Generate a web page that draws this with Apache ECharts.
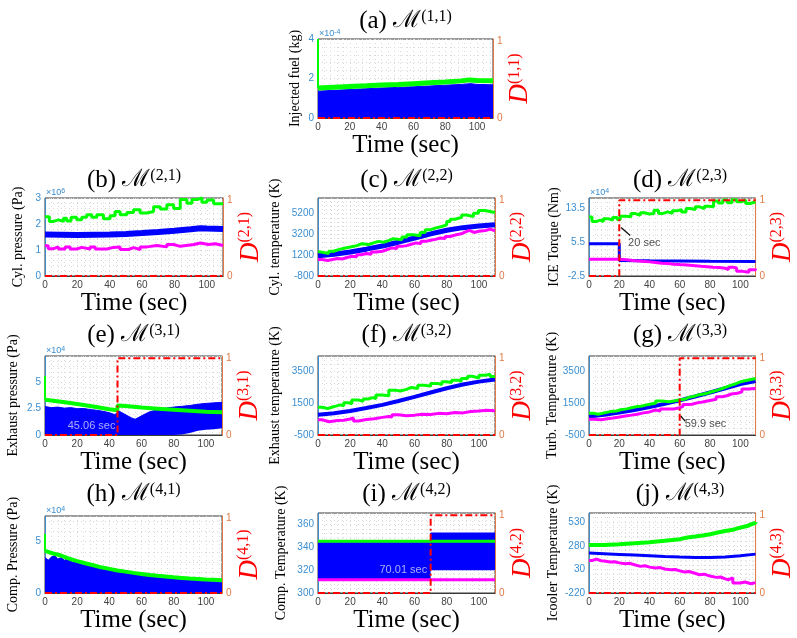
<!DOCTYPE html>
<html><head><meta charset="utf-8">
<script src="https://cdn.jsdelivr.net/npm/echarts@6.0.0/dist/echarts.min.js"></script>
<style>html,body{margin:0;padding:0;background:#fff}#c{width:797px;height:638px}</style>
</head><body><div id="c"></div>
<script>
// ---------------- DATA ----------------
const X_TICKS = [0,20,40,60,80,100];

// (a) Injected fuel, x1e-4 kg
const A_Y_TICKS = [0,2,4];
const a_green_start = [[0,4.0],[0,1.52]];
const a_green = [[0,1.52],[10,1.56],[20,1.6],[30,1.63],[40,1.67],[50,1.7],[60,1.74],[70,1.78],[80,1.82],[90,1.88],[95,1.93],[100,1.9],[110,1.88]];
const a_blue = [[0,1.36],[10,1.4],[20,1.44],[30,1.48],[40,1.52],[50,1.55],[60,1.58],[70,1.62],[80,1.66],[90,1.7],[96,1.74],[100,1.7],[110,1.68]];
const a_D = [[0,0],[110,0]];

// (b) Cyl. pressure, x1e6 Pa
const B_Y_TICKS = [0,1,2,3];
const b_green = [[0,2.28],[2.7,2.1],[5.2,2.16],[8.3,2.1],[11.4,2.22],[13.4,2.12],[16.1,2.26],[19.6,2.16],[22.7,2.26],[25.8,2.36],[28.9,2.26],[32,2.36],[36.1,2.2],[40.2,2.32],[43.3,2.48],[46.4,2.36],[50.6,2.44],[54.7,2.55],[58.8,2.42],[63,2.48],[67.1,2.66],[71.2,2.58],[75.3,2.74],[79.5,2.6],[83.6,2.94],[87.7,2.8],[90.8,2.94],[93.9,3.0],[97,2.84],[100.1,2.92],[104.2,2.78],[110,2.78]];
const b_blue = [[0,1.6],[10,1.59],[20,1.58],[30,1.59],[40,1.6],[50,1.62],[60,1.65],[70,1.69],[80,1.74],[90,1.8],[96,1.84],[100,1.83],[110,1.81]];
const b_magenta = [[0,1.16],[2,1.05],[5.2,1.12],[8.3,1.04],[12.4,1.12],[15.5,1.04],[19.6,1.1],[22.7,1.04],[27.9,1.12],[31,1.04],[38.2,1.1],[42.3,1.12],[46.4,1.02],[51.6,1.09],[54.7,1.02],[58.8,1.12],[63,1.17],[69.1,1.12],[75.3,1.21],[79.5,1.14],[83.6,1.21],[92,1.27],[96,1.21],[101,1.24],[105.3,1.17],[110,1.17]];
const b_D = [[0,0],[110,0]];

// (c) Cyl. temperature, K
const C_Y_TICKS = [-800,1200,3200,5200];
const c_green = [[0,1520],[1.4,1360],[6.6,1580],[9.7,1740],[12.8,1900],[17,1990],[20,2120],[24.2,2310],[27.3,2220],[31.4,2380],[34.5,2530],[37.6,2450],[40.7,2600],[43.8,2790],[46.9,2690],[52.1,2950],[55.2,3170],[59.3,3080],[63.5,3390],[66.6,3640],[69.7,3800],[72.8,3960],[76.9,4120],[80,4440],[82.1,4660],[85.2,4850],[89.3,5070],[92.4,4910],[96.6,5230],[99.7,5490],[103.8,5300],[110,5300]];
const c_blue = [[0,1140],[10,1300],[20,1500],[30,1780],[40,2080],[50,2450],[60,2850],[70,3250],[80,3600],[90,3850],[100,4000],[110,4120]];
const c_magenta = [[0,790],[2.5,690],[6,790],[9,880],[12,830],[15,980],[18,1100],[21,1050],[24,1250],[27,1360],[30,1300],[33,1500],[36,1580],[40,1750],[43,1900],[46,1850],[49,2050],[52,2120],[55,2250],[58,2380],[61,2320],[64,2530],[67,2630],[70,2720],[73,2850],[76,2800],[79,3000],[82,3170],[86,3260],[89,3400],[91,3580],[94,3390],[97,3500],[100,3580],[104,3710],[107,3550],[110,3550]];
const c_D = [[0,0],[110,0]];

// (d) ICE Torque, x1e4 Nm
const D_Y_TICKS = [-2.5,5.5,13.5];
const d_green = [[0,11.5],[2,10.4],[4.4,10.75],[7.5,10.4],[9.5,11.1],[12.5,10.75],[15.6,11.4],[18.6,10.9],[20.6,11.7],[23.7,11.55],[27.7,12.3],[30.7,11.9],[33.8,12.5],[36.8,12.2],[39.8,12.35],[42.9,13.1],[45.9,12.35],[48.9,12.7],[52,12.35],[55,12.95],[58,13.25],[61.1,12.7],[64.1,13.5],[67.1,13.25],[70.2,13.9],[73.2,13.5],[76.2,14.05],[79.3,13.9],[82.3,15.3],[85.3,14.8],[88.4,15.5],[91.4,14.9],[94.4,15.6],[97.5,15.1],[100.5,15.5],[103.5,14.7],[106.5,15.1],[110,15.1]];
const d_blue = [[0,5.15],[20,5.15],[20.01,1.2],[40,1.1],[60,1.05],[80,1.0],[110,0.95]];
const d_magenta = [[0,1.5],[10,1.45],[20,1.35],[25,1.1],[30,1.0],[35,0.85],[40,0.7],[44,0.55],[48,0.45],[52,0.3],[56,0.2],[60,0.1],[65,-0.05],[70,-0.2],[74,-0.3],[78,-0.45],[82,-0.5],[86,-0.65],[90,-1.0],[92,-0.4],[95,-0.6],[97.5,-1.4],[101.5,-1.6],[105.6,-1.0],[110,-0.8]];
const d_D = [[0,0],[20,0],[20,1],[110,1]];
const d_note_at = [25.8,5.4];
const d_note_arrow = [[27.2,7.1],[21.2,9.0]];

// (e) Exhaust pressure, x1e4 Pa
const E_Y_TICKS = [0,2.5,5];
const e_green_start = [[0,5.6],[0,3.35]];
const e_green = [[0,3.35],[10,3.15],[20,2.95],[30,2.7],[40,2.45],[45,2.35],[45.06,2.8],[50,2.75],[60,2.6],[70,2.5],[80,2.4],[90,2.3],[100,2.2],[110,2.15]];
const e_t  = [0,4,8,12,16,20,24,28,32,36,40,43,45,45.06,48,51,54,56,58,61,65,70,75,80,85,90,95,100,105,110];
const e_hi = [2.7,2.6,2.65,2.55,2.6,2.5,2.52,2.42,2.35,2.25,2.12,1.95,2.05,2.35,2.1,1.85,1.6,1.5,1.65,1.9,2.2,2.4,2.55,2.65,2.72,2.8,2.92,3.0,3.05,3.1];
const e_lo = [0,0,0,0,0,0,0,0,0,0,0,0,0,0,0,0,0,0,0,0,0,0,0,0,0.05,0.2,0.4,0.5,0.55,0.65];
const e_D = [[0,0],[45.06,0],[45.06,1],[110,1]];
const e_note_at = [43.8,0.82];

// (f) Exhaust temperature, K
const F_Y_TICKS = [-500,1500,3500];
const f_green = [[0,1230],[2.5,1150],[6,1250],[9,1300],[11,1380],[14,1330],[16,1520],[19,1450],[21,1690],[25,1600],[28,1750],[31,1830],[34,1780],[36,2000],[40,1950],[44,2300],[48,2250],[51,2350],[55,2470],[58,2400],[62,2610],[66,2550],[70,2720],[74,2650],[77,2820],[80,2780],[83,2920],[87,2850],[89,3030],[93,3170],[96,3050],[100,3230],[104,3290],[107,3150],[110,3130]];
const f_blue = [[0,760],[10,860],[20,1000],[30,1180],[40,1380],[50,1620],[60,1880],[70,2150],[80,2420],[90,2650],[100,2830],[110,2960]];
const f_magenta = [[0,450],[2.5,330],[7,400],[12,420],[16,500],[20,560],[22,380],[25,470],[30,520],[35,600],[40,660],[44,620],[46,760],[50,700],[55,740],[60,800],[65,780],[70,850],[75,830],[80,900],[85,880],[90,960],[95,1000],[100,1050],[105,1020],[110,1000]];
const f_D = [[0,0],[110,0]];

// (g) Turb. Temperature, K
const G_Y_TICKS = [-500,1500,3500];
const g_green = [[0,860],[3,800],[6,880],[10,960],[14,1000],[18,1080],[21,1130],[25,1200],[28,1260],[31,1310],[35,1380],[38,1440],[41,1480],[44,1620],[48,1580],[53,1640],[57,1700],[60,1730],[63,1850],[66,1900],[69,2000],[72,2040],[75,2100],[78,2200],[81,2300],[85,2400],[88,2500],[91,2610],[94,2700],[97,2820],[100,2880],[103,2960],[107,3030],[110,3030]];
const g_blue = [[0,660],[10,760],[20,900],[30,1060],[40,1240],[50,1440],[60,1660],[70,1900],[80,2150],[90,2420],[100,2680],[110,2860]];
const g_magenta = [[0,490],[3,450],[8,520],[12,560],[16,620],[20,690],[24,740],[28,800],[32,880],[36,940],[40,1060],[44,1000],[47,1130],[52,1120],[56,1180],[59,1270],[62,1400],[65,1420],[68,1520],[72,1560],[75,1640],[79,1730],[84,1890],[88,1950],[91,2060],[94,2100],[98,2200],[101,2370],[105,2400],[110,2400]];
const g_D = [[0,0],[59.9,0],[59.9,1],[110,1]];
const g_note_at = [63.2,180];
const g_note_arrow = [[63.5,370],[60.4,700]];

// (h) Comp. Pressure, x1e4 Pa
const H_Y_TICKS = [0,5];
const h_green_start = [[0,5.75],[0,4.1]];
const h_green = [[0,4.1],[5,3.85],[10,3.65],[15,3.35],[20,3.1],[25,2.9],[30,2.7],[35,2.5],[40,2.35],[45,2.2],[50,2.08],[55,1.96],[60,1.86],[65,1.76],[70,1.67],[75,1.6],[80,1.53],[85,1.47],[90,1.41],[95,1.36],[100,1.31],[105,1.28],[110,1.25]];
const h_blue = [[0,3.45],[2,3.2],[4,3.5],[6,3.65],[8,3.3],[10,3.45],[12,3.2],[14,3.3],[17,3.0],[20,3.05],[23,2.8],[26,2.75],[30,2.6],[34,2.4],[38,2.3],[42,2.15],[46,2.05],[50,1.95],[55,1.82],[60,1.7],[65,1.6],[70,1.52],[75,1.45],[80,1.4],[85,1.33],[90,1.27],[95,1.17],[100,1.12],[105,1.08],[110,1.05]];
const h_D = [[0,0],[110,0]];

// (i) Comp. Temperature, K
const I_Y_TICKS = [300,320,340,360];
const i_t  = [0,70.01,70.01,110];
const i_lo = [312.3,312.3,320,320];
const i_hi = [344,344,352.5,352.5];
const i_green = [[0,345.3],[110,345.3]];
const i_magenta = [[0,311.5],[110,311.5]];
const i_D = [[0,0],[70.01,0],[70.01,1],[110,1]];
const i_note_at = [67.9,320.5];

// (j) Icooler Temperature, K
const J_Y_TICKS = [-220,30,280,530];
const j_green = [[0,290],[10,298],[20,308],[30,320],[40,335],[50,352],[60,370],[65,380],[70,391],[75,405],[80,423],[85,438],[90,451],[95,466],[98,475],[100,487],[103,495],[105,515],[108,525],[110,533]];
const j_blue = [[0,204],[10,197],[20,190],[30,183],[40,176],[50,168],[60,162],[70,158],[80,158],[90,162],[100,176],[110,193]];
const j_magenta = [[0,126],[2,140],[5,123],[8,120],[10,109],[14,112],[17,100],[20,91],[24,95],[27,80],[30,63],[34,70],[37,55],[40,45],[44,50],[47,35],[50,27],[54,30],[57,15],[60,3],[63,8],[66,-10],[70,-26],[73,-20],[76,-40],[80,-54],[84,-50],[87,-70],[90,-79],[92,-60],[95,-114],[100,-103],[103,-121],[107,-110],[110,-103]];
const j_D = [[0,0],[110,0]];

// ---------------- STYLE / BUILD ----------------
const SERIF = "'Liberation Serif','DejaVu Serif',serif";
const SANS = "'Liberation Sans','DejaVu Sans',sans-serif";
const BLUE='#0000ff', GREEN='#00ff00', MAG='#ff00ff', RED='#ff0000';
const AXBLUE='#3b8ed0', AXORANGE='#e27a45', GRIDC='#d9d9d9', DARK='#3a3a3a';

const option = {animation:false, backgroundColor:'#fff', grid:[], xAxis:[], yAxis:[], series:[], graphic:[]};

function gridVals(min,max,step){
  const out=[]; const n=Math.floor((max-min)/step+1e-9);
  for(let k=0;k<=n;k++) out.push(+(min+k*step).toFixed(6));
  return out;
}
const plain = v => String(v);

function addPanel(p){
  const gi = option.grid.length;
  const [L,T,W,H] = p.rect;
  option.grid.push({left:L, top:T, width:W, height:H, show:true, borderColor:DARK, borderWidth:1, backgroundColor:'#fff'});
  option.xAxis.push({type:'value', gridIndex:gi, min:0, max:110,
    name:'Time (sec)', nameLocation:'middle', nameGap:14,
    nameTextStyle:{fontFamily:SERIF, fontSize:25, color:'#000'},
    axisLine:{show:true, onZero:false, lineStyle:{color:DARK}},
    axisTick:{show:false, customValues:gridVals(0,110,4)},
    axisLabel:{customValues:X_TICKS, formatter:plain, color:'#444', fontSize:10, fontFamily:SANS, margin:4},
    splitLine:{show:true, lineStyle:{color:GRIDC, width:1, type:[1,3]}}
  });
  const yl = option.yAxis.length;
  option.yAxis.push({type:'value', gridIndex:gi, position:'left', min:p.ymin, max:p.ymax,
    name:p.yName, nameLocation:'middle', nameGap:p.yGap, nameRotate:90,
    nameTextStyle:{fontFamily:SERIF, fontSize:14, color:'#000'},
    axisLine:{show:true, onZero:false, lineStyle:{color:AXBLUE}},
    axisTick:{show:false, customValues:gridVals(p.ymin,p.ymax,p.yminor)},
    axisLabel:{customValues:p.yTicks, formatter:plain, color:AXBLUE, fontSize:10, fontFamily:SANS, margin:4},
    splitLine:{show:true, lineStyle:{color:GRIDC, width:1, type:[1,3]}}
  });
  option.yAxis.push({type:'value', gridIndex:gi, position:'right', min:0, max:1.03,
    name:'{d|D}{s|'+p.sup+'}', nameLocation:'middle', nameGap:p.dGap, nameRotate:90,
    nameTextStyle:{color:RED, rich:{
      d:{fontFamily:SERIF, fontStyle:'italic', fontSize:27, color:RED},
      s:{fontFamily:SERIF, fontSize:16, color:RED, verticalAlign:'top'}}},
    axisLine:{show:true, onZero:false, lineStyle:{color:AXORANGE}},
    axisTick:{show:false},
    axisLabel:{customValues:[0,1], formatter:plain, color:AXORANGE, fontSize:10, fontFamily:SANS, margin:4},
    splitLine:{show:false}
  });
  // title
  option.graphic.push({type:'text', x:L+W/2, y:p.titleY, silent:true, style:{
    text:'{n|'+p.label+' }{m|\u2133}{s|'+p.sup+'}', align:'center', verticalAlign:'middle',
    rich:{n:{fontFamily:SERIF, fontSize:25, fill:'#000'},
          m:{fontFamily:"'DejaVu Serif',serif", fontSize:24, fill:'#000'},
          s:{fontFamily:SERIF, fontSize:16, fill:'#000', verticalAlign:'top'}}}});
  if(p.exp){
    option.graphic.push({type:'text', x:L+1, y:T-1, silent:true, style:{
      text:'\u00d710{e|'+p.exp+'}', align:'left', verticalAlign:'bottom', fill:AXBLUE, fontSize:9, fontFamily:SANS,
      rich:{e:{fontSize:7, fill:AXBLUE, fontFamily:SANS, verticalAlign:'top'}}}});
  }
  const base = {xAxisIndex:gi, yAxisIndex:yl, symbol:'none', silent:true};
  p.series.forEach(s=>{
    if(s.kind==='area'){
      option.series.push(Object.assign({}, base, {type:'line', data:s.data, lineStyle:{color:BLUE,width:1}, areaStyle:{color:BLUE,opacity:1}, z:2}));
    } else if(s.kind==='band'){
      // rows are [y, t] so the first (stackable) dimension is the y value
      const st='band'+gi;
      option.series.push(Object.assign({}, base, {type:'line', stack:st, encode:{x:1,y:0},
        data:s.t.map((t,i)=>[s.lo[i],t]), lineStyle:{width:0,opacity:0}, z:2}));
      option.series.push(Object.assign({}, base, {type:'line', stack:st, encode:{x:1,y:0},
        data:s.t.map((t,i)=>[s.hi[i]-s.lo[i],t]), lineStyle:{color:BLUE,width:1}, areaStyle:{color:BLUE,opacity:1}, z:2}));
    } else if(s.kind==='line'){
      option.series.push(Object.assign({}, base, {type:'line', data:s.data, step:s.step||false, clip:s.clip!==false, lineStyle:{color:s.color,width:s.width}, z:3}));
    } else if(s.kind==='D'){
      option.series.push(Object.assign({}, base, {yAxisIndex:yl+1, type:'line', data:s.data, clip:false, lineStyle:{color:RED,width:2,type:[7,3,2,3]}, z:5}));
    } else if(s.kind==='note'){
      const ser = Object.assign({}, base, {type:'scatter', data:[s.at], symbol:'circle', symbolSize:0.1,
        itemStyle:{color:'rgba(0,0,0,0)'}, z:6,
        label:{show:true, formatter:s.text, position:s.pos, distance:0, color:s.color, fontSize:11, fontFamily:SANS}});
      if(s.arrow){
        ser.markLine = {silent:true, symbol:['none','arrow'], symbolSize:[0,7], animation:false,
          lineStyle:{color:'#111', width:1.3, type:'solid'}, label:{show:false},
          data:[[{coord:s.arrow[0]},{coord:s.arrow[1]}]]};
      }
      option.series.push(ser);
    }
  });
}

addPanel({rect:[318,39,175,79], titleY:21, label:'(a)', sup:'(1,1)', ymin:0, ymax:4, yminor:0.4, yTicks:A_Y_TICKS,
  yName:'Injected fuel (kg)', yGap:16, dGap:10, exp:'-4',
  series:[{kind:'area',data:a_blue},{kind:'line',data:a_green_start,color:GREEN,width:2,clip:false},
          {kind:'line',data:a_green,color:GREEN,width:5},{kind:'D',data:a_D}]});

addPanel({rect:[45,198,178,78], titleY:180, label:'(b)', sup:'(2,1)', ymin:0, ymax:3, yminor:0.2, yTicks:B_Y_TICKS,
  yName:'Cyl. pressure (Pa)', yGap:20, dGap:14, exp:'6',
  series:[{kind:'line',data:b_blue,color:BLUE,width:6},{kind:'line',data:b_green,color:GREEN,width:3,step:'end'},
          {kind:'line',data:b_magenta,color:MAG,width:3,step:'end'},{kind:'D',data:b_D}]});

addPanel({rect:[318,198,177,78], titleY:180, label:'(c)', sup:'(2,2)', ymin:-800, ymax:6700, yminor:400, yTicks:C_Y_TICKS,
  yName:'Cyl. temperature (K)', yGap:36, dGap:14,
  series:[{kind:'line',data:c_blue,color:BLUE,width:5},{kind:'line',data:c_green,color:GREEN,width:3,step:'end'},
          {kind:'line',data:c_magenta,color:MAG,width:3,step:'end'},{kind:'D',data:c_D}]});

addPanel({rect:[589,198,182,78], titleY:180, label:'(d)', sup:'(2,3)', ymin:-2.5, ymax:16, yminor:1.6, yTicks:D_Y_TICKS,
  yName:'ICE Torque (Nm)', yGap:26, dGap:9, exp:'4',
  series:[{kind:'line',data:d_blue,color:BLUE,width:3},{kind:'line',data:d_green,color:GREEN,width:3,step:'end'},
          {kind:'line',data:d_magenta,color:MAG,width:3,step:'end'},{kind:'D',data:d_D},
          {kind:'note',at:d_note_at,text:'20 sec',pos:'right',color:'#222',arrow:d_note_arrow}]});

addPanel({rect:[45,356,177,79], titleY:335, label:'(e)', sup:'(3,1)', ymin:0, ymax:7.5, yminor:0.5, yTicks:E_Y_TICKS,
  yName:'Exhaust pressure (Pa)', yGap:25, dGap:14, exp:'4',
  series:[{kind:'band',t:e_t,lo:e_lo,hi:e_hi},{kind:'line',data:e_green_start,color:GREEN,width:2,clip:false},
          {kind:'line',data:e_green,color:GREEN,width:4},{kind:'D',data:e_D},
          {kind:'note',at:e_note_at,text:'45.06 sec',pos:'left',color:'#d8d4f2'}]});

addPanel({rect:[318,356,177,79], titleY:335, label:'(f)', sup:'(3,2)', ymin:-500, ymax:4430, yminor:400, yTicks:F_Y_TICKS,
  yName:'Exhaust temperature (K)', yGap:36, dGap:14,
  series:[{kind:'line',data:f_blue,color:BLUE,width:4},{kind:'line',data:f_green,color:GREEN,width:3,step:'end'},
          {kind:'line',data:f_magenta,color:MAG,width:3,step:'end'},{kind:'D',data:f_D}]});

addPanel({rect:[589,356,182,79], titleY:335, label:'(g)', sup:'(3,3)', ymin:-500, ymax:4430, yminor:400, yTicks:G_Y_TICKS,
  yName:'Turb. Temperature (K)', yGap:29, dGap:9,
  series:[{kind:'line',data:g_blue,color:BLUE,width:4},{kind:'line',data:g_green,color:GREEN,width:3,step:'end'},
          {kind:'line',data:g_magenta,color:MAG,width:3,step:'end'},{kind:'D',data:g_D},
          {kind:'note',at:g_note_at,text:'59.9 sec',pos:'right',color:'#222',arrow:g_note_arrow}]});

addPanel({rect:[45,516,177,77], titleY:494, label:'(h)', sup:'(4,1)', ymin:0, ymax:7.5, yminor:1, yTicks:H_Y_TICKS,
  yName:'Comp. Pressure (Pa)', yGap:25, dGap:14, exp:'4',
  series:[{kind:'area',data:h_blue},{kind:'line',data:h_green_start,color:GREEN,width:2,clip:false},
          {kind:'line',data:h_green,color:GREEN,width:4},{kind:'D',data:h_D}]});

addPanel({rect:[318,513,177,80], titleY:494, label:'(i)', sup:'(4,2)', ymin:300, ymax:370, yminor:4, yTicks:I_Y_TICKS,
  yName:'Comp. Temperature (K)', yGap:30, dGap:14,
  series:[{kind:'band',t:i_t,lo:i_lo,hi:i_hi},{kind:'line',data:i_green,color:GREEN,width:3},
          {kind:'line',data:i_magenta,color:MAG,width:3},{kind:'D',data:i_D},
          {kind:'note',at:i_note_at,text:'70.01 sec',pos:'left',color:'#d8d4f2'}]});

addPanel({rect:[589,513,182,80], titleY:494, label:'(j)', sup:'(4,3)', ymin:-220, ymax:630, yminor:50, yTicks:J_Y_TICKS,
  yName:'Icooler Temperature (K)', yGap:29, dGap:9,
  series:[{kind:'line',data:j_blue,color:BLUE,width:3},{kind:'line',data:j_green,color:GREEN,width:4,step:'end'},
          {kind:'line',data:j_magenta,color:MAG,width:3,step:'end'},{kind:'D',data:j_D}]});

const chart = echarts.init(document.getElementById('c'), null, {renderer:'canvas'});
chart.setOption(option);
</script></body></html>
